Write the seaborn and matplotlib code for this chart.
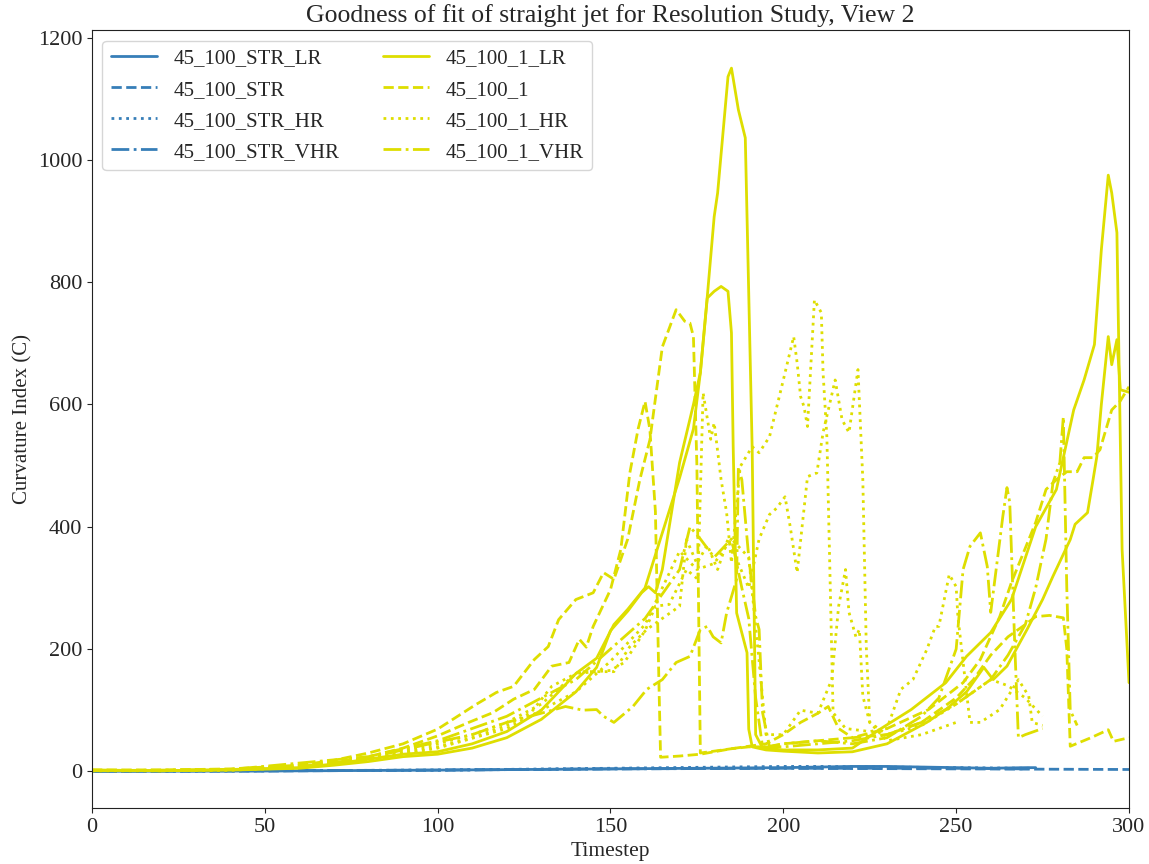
import matplotlib
matplotlib.use("Agg")
import matplotlib.pyplot as plt
import seaborn as sns
import pandas as pd

# blue runs (straight jet)
str_lr_t = [0, 50, 100, 150, 200, 220, 230, 250, 260, 270, 273]
str_lr_v = [0, 0.5, 2, 4, 6, 8, 8, 6, 5, 6, 6]
str_t = [0, 50, 100, 150, 200, 250, 300]
str_v = [0, 0.5, 2, 4, 5, 4, 3]
str_hr_t = [0, 100, 150, 200, 210, 250, 272]
str_hr_v = [0, 2, 5, 8, 8, 6, 5]
str_vhr_t = [0, 100, 150, 200, 250, 270]
str_vhr_v = [0, 2, 4, 5, 5, 4]

# yellow runs (45_100_1), two or three traces per resolution
lr_a_t = [0, 20, 40, 60, 70, 80, 90, 100, 110, 120, 130, 140, 146, 151, 155, 160, 165, 170, 174, 176, 178,
          180, 181, 184, 185, 187, 189, 191, 192, 194, 200, 210, 220, 228, 237, 247, 253, 260, 266, 273,
          279, 284, 287, 290, 292, 294, 295, 296.5, 298, 300]
lr_a_v = [2, 1, 3, 6, 12, 20, 28, 32, 45, 65, 100, 160, 185, 240, 265, 300, 390, 480, 560, 652, 776,
          907, 946, 1136, 1150, 1082, 1036, 526, 60, 38, 35, 35, 38, 69, 101, 145, 188, 227, 281, 400,
          461, 591, 640, 698, 853, 975, 946, 881, 363, 145]
lr_b_t = [0, 20, 40, 60, 70, 80, 90, 100, 110, 120, 130, 140, 146, 150, 155, 159, 161, 163, 165, 170,
          174, 176, 178, 180, 182, 184, 185, 185.5, 186.5, 189.5, 190, 191, 195, 200, 210, 220, 230,
          241.5, 247, 253, 258, 260.7, 264.7, 270.5, 275, 278, 283, 284.4, 288, 289.6, 290.7, 292, 294,
          295, 296.5, 297.5, 300]
lr_b_v = [2, 1, 2, 5, 10, 16, 24, 28, 38, 55, 85, 130, 170, 230, 262, 292, 302, 292, 330, 505,
          600, 652, 774, 785, 793, 785, 717, 531, 259, 194, 69, 40, 35, 33, 30, 32, 45,
          80, 101, 130, 170, 150, 172, 232, 281, 319, 379, 404, 423, 477, 515, 600, 711,
          665, 706, 624, 620]

mid_a_t = [0, 20, 40, 60, 70, 80, 90, 100, 111, 117, 122, 128, 132, 135, 140, 145, 148, 151, 155, 158.5,
           161.4, 165, 169, 171.5, 173, 174, 175, 176, 180, 185, 190, 195, 200, 210, 220, 230, 242, 252,
           257, 262.6, 266, 269, 273, 276, 279, 282, 285, 287, 289.6, 291.6, 295, 297.4, 300]
mid_a_v = [2, 2, 4, 10, 18, 30, 45, 69, 109, 129, 139, 183, 204, 248, 281, 292, 325, 314, 380, 477,
           542, 694, 755, 736, 733, 711, 500, 30, 33, 37, 40, 40, 45, 50, 55, 70, 101, 145,
           183, 253, 309, 351, 407, 461, 477, 490, 490, 513, 513, 526, 591, 605, 629]
mid_b_t = [0, 20, 40, 60, 70, 80, 90, 100, 109, 116, 122, 128, 133, 138, 141, 143, 145, 150, 153, 155.6,
           158, 160, 161.4, 163, 164, 164.5, 170, 176, 185, 190, 195, 200, 205, 210, 213, 216, 220, 230,
           240, 250, 255, 260, 265, 270, 273, 277, 281, 282, 283, 289, 294, 295.5, 300]
mid_b_v = [2, 2, 3, 8, 15, 24, 38, 58, 80, 96, 118, 134, 172, 178, 216, 203, 237, 297, 363, 488,
           560, 605, 559, 425, 150, 23, 25, 28, 37, 41, 45, 60, 80, 95, 106, 70, 55, 60,
           80, 120, 150, 190, 220, 240, 253, 255, 251, 200, 41, 55, 68, 49, 55]

hr_a_t = [0, 20, 40, 60, 70, 80, 90, 100, 110, 120, 130, 140, 150, 154, 160, 163, 167, 172, 175.3,
          176.8, 179, 180, 182, 183.6, 185, 187.5, 191, 193, 196, 200, 203, 204, 205, 206, 207, 209,
          211, 211.5, 212.6, 214.4, 218, 225, 230, 234, 237.5, 241.5, 244, 245, 248, 250, 250.5, 254,
          257, 262.6, 268, 271, 272, 275]
hr_a_v = [1, 1, 3, 7, 14, 22, 32, 45, 60, 80, 110, 160, 165, 178, 230, 270, 273, 330, 314,
          619, 543, 570, 477, 423, 341, 498, 531, 521, 547, 640, 711, 668, 613, 596, 564, 771,
          750, 652, 547, 96, 70, 65, 70, 134, 150, 199, 237, 237, 322, 302, 253, 80,
          80, 101, 150, 123, 80, 75]
hr_b_t = [0, 20, 40, 60, 70, 80, 90, 100, 110, 120, 127, 133, 141, 151, 155.6, 160.5, 165, 170, 172,
          175, 178, 181, 184, 187, 190, 193, 196, 198, 200.5, 202, 204, 207, 209.7, 211.5, 215, 217,
          219, 221.6, 223, 224, 225, 230, 240, 250, 260, 265, 270, 275]
hr_b_v = [1, 1, 2, 6, 12, 20, 30, 40, 55, 75, 96, 139, 163, 163, 204, 232, 250, 270, 379,
          340, 370, 330, 380, 340, 300, 380, 420, 430, 449, 400, 325, 482, 488, 554, 640, 575,
          554, 657, 477, 204, 80, 60, 75, 110, 150, 140, 120, 90]
hr_c_t = [0, 40, 80, 100, 120, 140, 150, 160, 170, 175, 180, 185, 190, 193, 195, 200, 205, 210, 214,
          216, 218, 219, 221, 222, 223, 225, 230, 240, 250]
hr_c_v = [1, 2, 18, 38, 70, 130, 180, 240, 360, 330, 340, 380, 350, 180, 60, 60, 100, 95, 150,
          270, 330, 260, 220, 232, 123, 80, 50, 60, 80]

vhr_a_t = [0, 20, 40, 60, 70, 80, 90, 100, 110, 120, 130, 137, 142, 146, 148, 151, 156.5, 160.5, 165,
           169, 173, 176, 178, 179.7, 182, 183.6, 186.5, 187, 188, 190, 192, 193, 194, 196, 200, 210,
           220, 230, 240, 245, 250, 252, 254, 257, 259, 260, 263.5, 264.7, 265.5, 267, 268, 270, 275]
vhr_a_v = [1, 1, 3, 8, 14, 22, 35, 48, 60, 80, 95, 106, 100, 101, 90, 80, 106, 134, 150,
           178, 188, 232, 237, 220, 210, 259, 314, 498, 477, 350, 253, 232, 96, 40, 45, 50,
           45, 55, 90, 120, 200, 330, 368, 390, 335, 260, 417, 464, 440, 199, 55, 60, 70]
vhr_b_t = [0, 40, 80, 100, 120, 140, 150, 160, 170, 173, 176, 180, 185, 188, 190, 192, 194, 200, 210,
           220, 230, 240, 250, 260, 265, 270, 273, 276, 278, 280, 281, 282, 283, 285]
vhr_b_v = [1, 3, 24, 50, 90, 150, 200, 250, 330, 400, 380, 350, 380, 300, 250, 120, 40, 40, 45,
           50, 60, 80, 110, 150, 190, 240, 300, 380, 472, 505, 580, 300, 100, 75]

blue = "#377eb8"
yellow = "#dede00"

series = [
    ("45_100_STR_LR", blue, "-", [(str_lr_t, str_lr_v)]),
    ("45_100_STR", blue, "--", [(str_t, str_v)]),
    ("45_100_STR_HR", blue, ":", [(str_hr_t, str_hr_v)]),
    ("45_100_STR_VHR", blue, "-.", [(str_vhr_t, str_vhr_v)]),
    ("45_100_1_LR", yellow, "-", [(lr_a_t, lr_a_v), (lr_b_t, lr_b_v)]),
    ("45_100_1", yellow, "--", [(mid_a_t, mid_a_v), (mid_b_t, mid_b_v)]),
    ("45_100_1_HR", yellow, ":", [(hr_a_t, hr_a_v), (hr_b_t, hr_b_v), (hr_c_t, hr_c_v)]),
    ("45_100_1_VHR", yellow, "-.", [(vhr_a_t, vhr_a_v), (vhr_b_t, vhr_b_v)]),
]

sns.set_style("ticks")
plt.rcParams["font.family"] = ["Liberation Serif", "DejaVu Serif"]
plt.rcParams["axes.edgecolor"] = "#222222"

fig, ax = plt.subplots(figsize=(11.49, 8.64), dpi=100)
fig.subplots_adjust(left=0.080, right=0.9826, bottom=0.0648, top=0.965)

for name, col, ls, runs in series:
    for i, (t, v) in enumerate(runs):
        df = pd.DataFrame({"Timestep": t, "C": v})
        sns.lineplot(data=df, x="Timestep", y="C", ax=ax, color=col, linestyle=ls,
                     linewidth=2, estimator=None, sort=False,
                     label=name if i == 0 else None)

ax.set_xlim(0, 300)
ax.set_ylim(-60, 1212)
ax.set_title("Goodness of fit of straight jet for Resolution Study, View 2", fontsize=18.5)
ax.set_xlabel("Timestep", fontsize=15.5)
ax.set_ylabel("Curvature Index (C)", fontsize=15)
ax.tick_params(labelsize=16)
ax.legend(loc="upper left", ncol=2, fontsize=15, frameon=True, handlelength=2.2,
          columnspacing=2.1, handletextpad=0.8, borderaxespad=0.5, labelspacing=0.55)

fig.savefig("out.png", dpi=100)
